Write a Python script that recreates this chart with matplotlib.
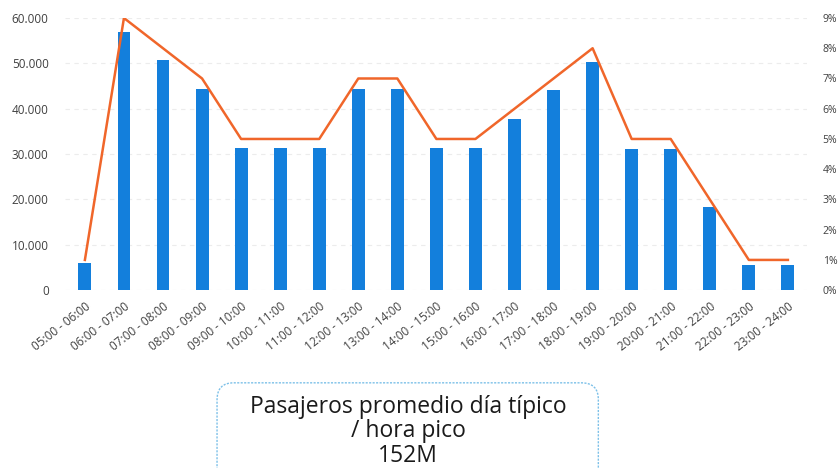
"""
Pasajeros promedio por franja horaria (barras) y porcentaje del día (línea), guardado como out.png.
"""
import matplotlib
matplotlib.use('Agg')
from matplotlib import pyplot as plt
from matplotlib.patches import FancyBboxPatch
from matplotlib.ticker import FuncFormatter

# franjas horarias
franjas = [
    '05:00 - 06:00', '06:00 - 07:00', '07:00 - 08:00', '08:00 - 09:00',
    '09:00 - 10:00', '10:00 - 11:00', '11:00 - 12:00', '12:00 - 13:00',
    '13:00 - 14:00', '14:00 - 15:00', '15:00 - 16:00', '16:00 - 17:00',
    '17:00 - 18:00', '18:00 - 19:00', '19:00 - 20:00', '20:00 - 21:00',
    '21:00 - 22:00', '22:00 - 23:00', '23:00 - 24:00',
]
# pasajeros promedio por franja
pasajeros = [6000, 56900, 50700, 44300, 31400, 31400, 31400, 44300, 44300, 31400,
             31300, 37700, 44200, 50300, 31200, 31200, 18400, 5500, 5500]
# porcentaje del día (eje derecho)
porcentaje = [1, 9, 8, 7, 5, 5, 5, 7, 7, 5, 5, 6, 7, 8, 5, 5, 3, 1, 1]

azul = '#137fdc'
naranja = '#f0662a'
gris = '#404040'

plt.rcParams['font.family'] = ['Open Sans', 'DejaVu Sans']

fig = plt.figure(figsize=(8.38, 4.68), dpi=100)
ax = fig.add_axes([0.078, 0.380, 0.8855, 0.5815])
ax2 = ax.twinx()

x = range(len(franjas))
ax.bar(x, pasajeros, width=0.33, color=azul, zorder=2)
ax2.plot(x, porcentaje, color=naranja, linewidth=1.8, zorder=3)

ax.set_xlim(-0.5, len(franjas) - 0.5)
ax.set_ylim(0, 60000)
ax.set_yticks(range(0, 60001, 10000))
ax.yaxis.set_major_formatter(FuncFormatter(lambda v, p: f'{int(v):,}'.replace(',', '.')))
ax2.set_ylim(0, 9)
ax2.set_yticks(range(0, 10))
ax2.yaxis.set_major_formatter(FuncFormatter(lambda v, p: f'{int(v)}%'))

ax.set_xticks(list(x))
ax.set_xticklabels(franjas, rotation=38, ha='right', rotation_mode='anchor')

ax.grid(axis='y', color='#ececec', linestyle=(0, (4, 4)), linewidth=0.8, zorder=0)
for a in (ax, ax2):
    for s in a.spines.values():
        s.set_visible(False)
    a.tick_params(length=0, labelcolor=gris)
ax.tick_params(axis='y', labelsize=8.5, pad=12)
ax.tick_params(axis='x', labelsize=8.5, pad=7)
ax2.tick_params(axis='y', labelsize=7.5, pad=11)
ax.set_zorder(1)
ax2.set_zorder(2)
ax2.patch.set_visible(False)

# recuadro inferior
caja = FancyBboxPatch((0.259, -0.05), 0.455, 0.232, transform=fig.transFigure,
                      boxstyle='round,pad=0,rounding_size=0.02', facecolor='white',
                      edgecolor='#7cc0e8', linewidth=1.0, linestyle=(0, (1.5, 1)),
                      clip_on=False, mutation_aspect=838 / 468)
fig.patches.append(caja)
fig.text(0.487, 0.078, 'Pasajeros promedio día típico\n/ hora pico\n152M',
         ha='center', va='center', fontsize=16.5, color='#1a1a1a', linespacing=1.05)

fig.savefig('out.png', dpi=100)
